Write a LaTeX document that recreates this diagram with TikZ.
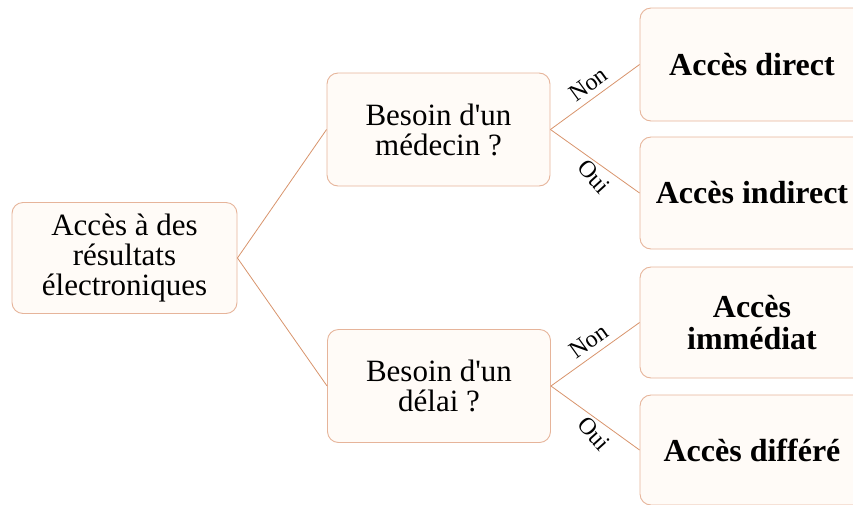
\documentclass[tikz,border=0pt]{standalone}
\usepackage{fontspec}
\setmainfont{Liberation Serif}[Ligatures=TeXOff]
\definecolor{boxline}{HTML}{E6B49A}
\definecolor{boxfill}{HTML}{FFFBF7}
\definecolor{edgecol}{HTML}{D8946C}
\begin{document}
\begin{tikzpicture}[x=1pt,y=1pt,
  box/.style={draw=boxline, fill=boxfill, line width=0.9pt, rounded corners=11pt,
    align=center, inner sep=0pt, font=\fontsize{31}{30}\selectfont},
  leaf/.style={box, font=\fontsize{32}{32}\selectfont\bfseries},
  conn/.style={draw=edgecol, line width=0.8pt},
  lab/.style={font=\fontsize{24}{24}\selectfont, sloped}]
\useasboundingbox (0,0) rectangle (853,-504);
\clip (0,0) rectangle (853,-504);
\node[box, minimum width=225pt, minimum height=111pt] (root) at (124.5,-258) {Accès à des\\résultats\\électroniques};
\node[box, minimum width=223pt, minimum height=113pt] (med) at (438.5,-129.5) {Besoin d'un\\médecin ?};
\node[box, minimum width=223pt, minimum height=113pt] (del) at (439,-386) {Besoin d'un\\délai ?};
\node[leaf, minimum width=224pt, minimum height=113pt] (dir) at (752,-64.5) {Accès direct};
\node[leaf, minimum width=224pt, minimum height=112pt] (ind) at (752,-193) {Accès indirect};
\node[leaf, minimum width=224pt, minimum height=111pt] (imm) at (752,-322.5) {Accès\\immédiat};
\node[leaf, minimum width=224pt, minimum height=110pt] (dif) at (752,-450) {Accès différé};
\draw[conn] (root.east) -- (med.west);
\draw[conn] (root.east) -- (del.west);
\draw[conn] (med.east) -- node[lab, above, pos=0.52, inner sep=6pt] {Non} (dir.west);
\draw[conn] (med.east) -- node[lab, below, pos=0.6, inner sep=5pt, rotate=-12] {Oui} (ind.west);
\draw[conn] (del.east) -- node[lab, above, pos=0.52, inner sep=6pt] {Non} (imm.west);
\draw[conn] (del.east) -- node[lab, below, pos=0.6, inner sep=5pt, rotate=-12] {Oui} (dif.west);
\end{tikzpicture}
\end{document}
